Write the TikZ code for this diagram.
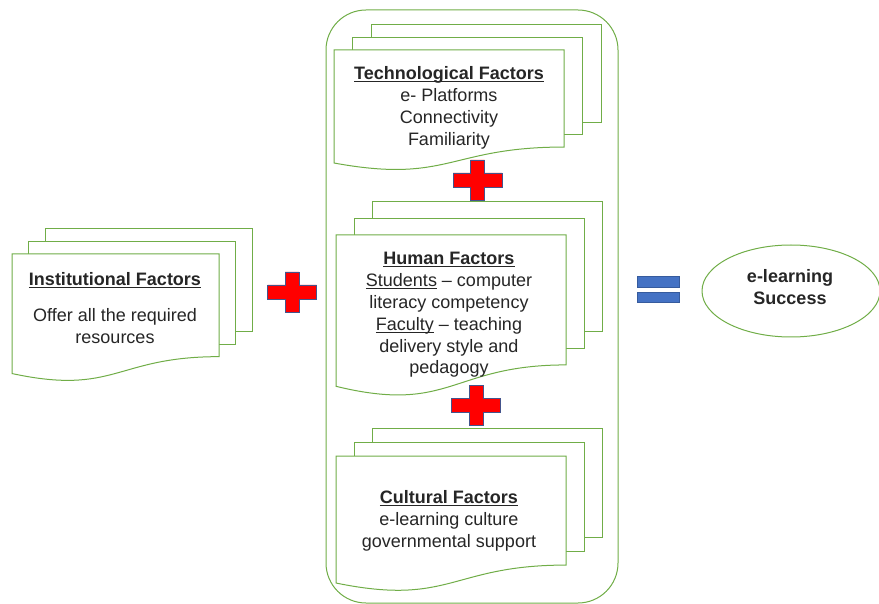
\documentclass[tikz,border=0pt]{standalone}
\usepackage{fontspec}
\setmainfont{Liberation Sans}
\usetikzlibrary{shapes.geometric}

\definecolor{docgreen}{RGB}{112,173,71}
\definecolor{plusred}{RGB}{255,0,0}
\definecolor{plusedge}{RGB}{68,84,140}
\definecolor{eqblue}{RGB}{68,114,196}
\definecolor{txtgray}{RGB}{38,38,38}

\newcommand\undl[1]{\setbox0\hbox{#1}\rlap{\rule[-2.4pt]{\wd0}{0.9pt}}\box0\relax}

\tikzset{
  page/.style={fill=white, draw=docgreen, line width=1pt},
  factor/.style={align=center, text=txtgray, font=\fontsize{18}{21.8}\selectfont},
  plussign/.style={fill=plusred, draw=plusedge, line width=0.6pt},
}

\begin{document}
\begin{tikzpicture}[x=1pt, y=-1pt]
\useasboundingbox (0,0) rectangle (879,604);

% x0, top, width, height, dx, dy
\def\docstack#1#2#3#4#5#6{%
  \filldraw[page] ({#1+2*#5},{#2+2*#6}) rectangle ({#1+2*#5+#3},{#2+2*#6+0.802*#4});
  \filldraw[page] ({#1+#5},{#2+#6}) rectangle ({#1+#5+#3},{#2+#6+0.802*#4});
  \filldraw[page] (#1,#2) -- ({#1+#3},#2) -- ({#1+#3},{#2+0.802*#4})
    .. controls ({#1+0.5*#3},{#2+0.802*#4}) and ({#1+0.5*#3},{#2+1.1075*#4})
    .. (#1,{#2+0.934*#4}) -- cycle;
}
\def\redplus#1#2{%
  \filldraw[plussign] ({#1-7},{#2-20}) -- ({#1+7},{#2-20}) -- ({#1+7},{#2-7})
    -- ({#1+24.5},{#2-7}) -- ({#1+24.5},{#2+7}) -- ({#1+7},{#2+7})
    -- ({#1+7},{#2+20}) -- ({#1-7},{#2+20}) -- ({#1-7},{#2+7})
    -- ({#1-24.5},{#2+7}) -- ({#1-24.5},{#2-7}) -- ({#1-7},{#2-7}) -- cycle;
}

% group of the three factors
\draw[docgreen, line width=1pt, rounded corners=40pt] (326,10) rectangle (618,603);

\docstack{12}{254}{207}{128}{16.5}{-12.5}
\docstack{334}{50}{230}{121}{18.5}{-12.5}
\docstack{336}{235}{230}{162}{18}{-16.5}
\docstack{336}{456}{230}{136}{18}{-14}

\node[factor] (inst) at (115,308) {\undl{\textbf{Institutional Factors}}\\[14pt]Offer all the required\\resources};
\node[factor] (tech) at (449,108) {\undl{\textbf{Technological Factors}}\\e- Platforms\\Connectivity\\Familiarity};
\node[factor] (human) at (449,315) {\undl{\textbf{Human Factors}}\\\undl{Students} -- computer\\literacy competency\\\undl{Faculty} -- teaching\\delivery style and\\pedagogy};
\node[factor] (cult) at (449,521) {\undl{\textbf{Cultural Factors}}\\e-learning culture\\governmental support};

\redplus{292}{292}
\redplus{477.5}{180}
\redplus{476}{405}

% equals sign
\filldraw[fill=eqblue, draw=eqblue!80!black, line width=0.4pt] (637,276) rectangle (679,287);
\filldraw[fill=eqblue, draw=eqblue!80!black, line width=0.4pt] (637,292) rectangle (679,302);

\node[ellipse, draw=docgreen, line width=1pt, minimum width=178pt, minimum height=92pt] (goal) at (791,291) {};
\node[factor, font=\fontsize{18}{21.8}\selectfont\bfseries] (goaltext) at (790,287) {e-learning\\Success};

\end{tikzpicture}
\end{document}
